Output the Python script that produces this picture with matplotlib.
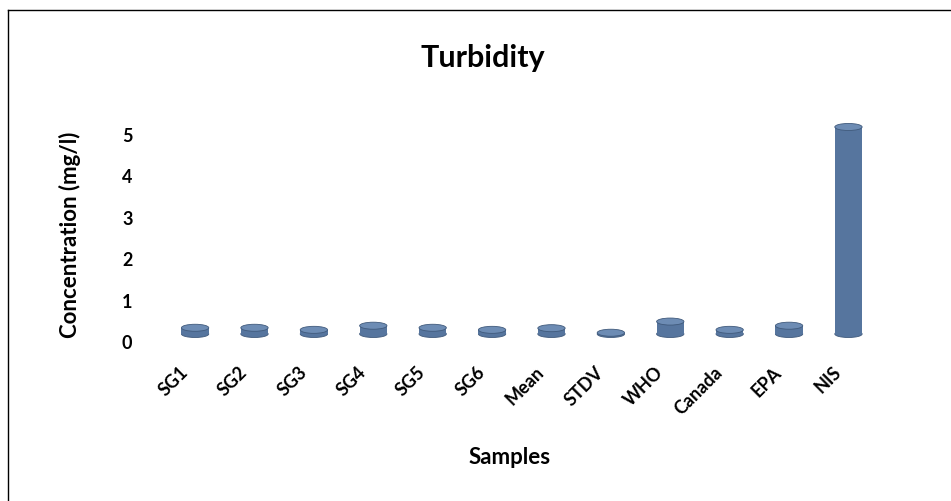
import matplotlib
matplotlib.use("Agg")
import matplotlib.pyplot as plt
from matplotlib.patches import Ellipse
from matplotlib.lines import Line2D
from matplotlib.transforms import ScaledTranslation

# Turbidity values
samples = ['SG1', 'SG2', 'SG3', 'SG4', 'SG5', 'SG6', 'Mean', 'STDV', 'WHO', 'Canada', 'EPA', 'NIS']
values = [0.15, 0.15, 0.1, 0.2, 0.15, 0.1, 0.14, 0.03, 0.3, 0.1, 0.2, 5.0]
yticks = [0, 1, 2, 3, 4, 5]

plt.rcParams['font.family'] = ['Lato', 'DejaVu Sans']

fig = plt.figure(figsize=(9.51, 5.02), dpi=100)
ax = fig.add_axes([0.1583, 0.3327, 0.7776, 0.4536])

side = '#56759e'
top = '#6d8cb4'
edge = '#405a7c'
width = 0.46
ell_h = 0.17

x = list(range(len(samples)))
ax.bar(x, values, width=width, color=side, edgecolor='none', zorder=2)
for xi, v in zip(x, values):
    ax.add_patch(Ellipse((xi, 0), width, ell_h, facecolor=side, edgecolor=edge,
                         linewidth=0.6, zorder=1, clip_on=False))
    ax.add_patch(Ellipse((xi, v), width, ell_h, facecolor=top, edgecolor=edge,
                         linewidth=0.6, zorder=3, clip_on=False))

ax.set_xlim(-0.75, 11.7)
ax.set_ylim(0, 5.5)
ax.set_yticks(yticks)
ax.set_yticklabels([str(t) for t in yticks], fontsize=13, fontweight='bold')
ax.set_xticks(x)
ax.set_xticklabels(samples, fontsize=13, fontweight='bold', rotation=45,
                   ha='right', va='center', rotation_mode='anchor')
ax.tick_params(axis='y', length=0, pad=13)
ax.tick_params(axis='x', length=0, pad=25)
for lab in ax.get_yticklabels():
    lab.set_transform(lab.get_transform() + ScaledTranslation(0, -0.07, fig.dpi_scale_trans))
for lab in ax.get_xticklabels():
    lab.set_transform(lab.get_transform() + ScaledTranslation(-0.1, 0, fig.dpi_scale_trans))
for s in ax.spines.values():
    s.set_visible(False)

fig.text(483 / 951, 1 - 58 / 502, 'Turbidity', ha='center', va='center',
         fontsize=22, fontweight='bold')
fig.text(70 / 951, 1 - 235 / 502, 'Concentration (mg/l)', ha='center', va='center',
         rotation=90, fontsize=16, fontweight='bold')
fig.text(510 / 951, 1 - 458 / 502, 'Samples', ha='center', va='center',
         fontsize=16, fontweight='bold')

# chart frame (top and left edges visible)
fig.add_artist(Line2D([8 / 951, 1], [1 - 11 / 502, 1 - 11 / 502], color='black', linewidth=1))
fig.add_artist(Line2D([8 / 951, 8 / 951], [1 - 11 / 502, 0], color='black', linewidth=1))

fig.savefig('out.png', dpi=100)
